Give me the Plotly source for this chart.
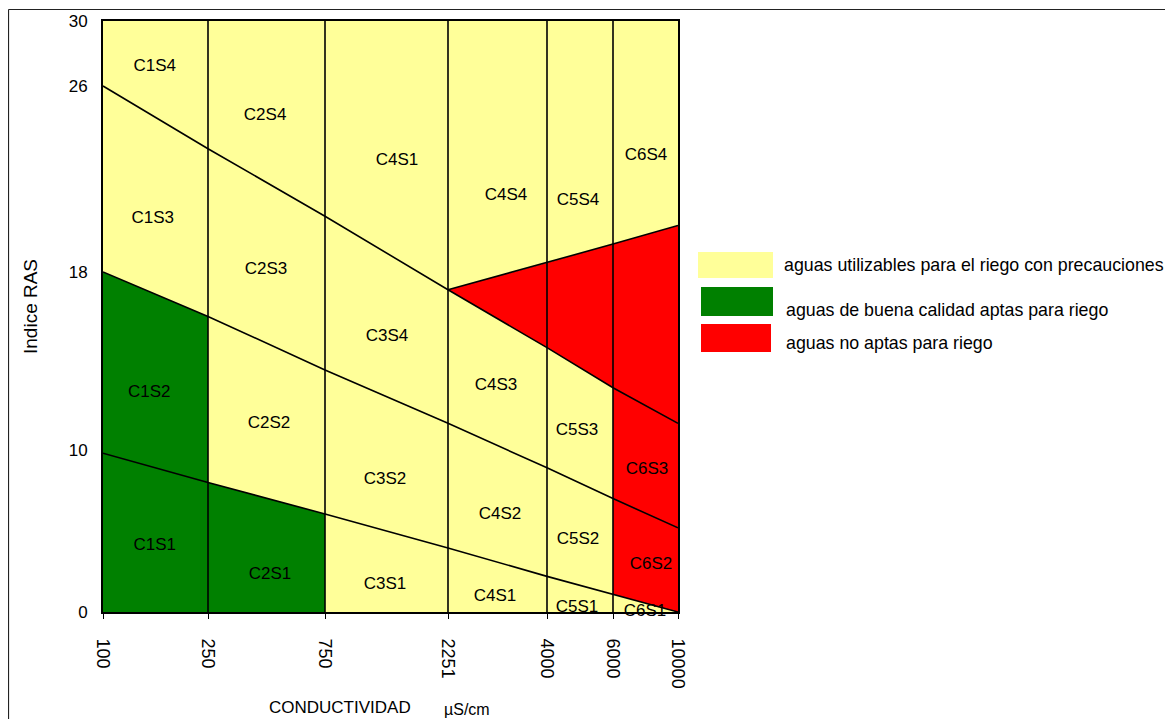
import numpy as np
import plotly.graph_objects as go

# ---------------- data ----------------
cond_ticks = [100, 250, 750, 2251, 4000, 6000, 10000]
cond_labels = ["100", "250", "750", "2251", "4000", "6000", "10000"]
sar_ticks = [0, 10, 18, 26, 30]
sar_labels = ["0", "10", "18", "26", "30"]

# SAR value of each class boundary at every conductivity tick
s1_s2 = [9.8, 8.0, 6.05, 3.95, 2.2, 1.1, 0.0]
s2_s3 = [18.0, 16.0, 13.6, 11.2, 8.9, 7.0, 5.2]
s3_s4 = [26.0, 23.3, 20.4, 17.2, 14.6, 12.8, 11.2]
# upper edge of the "not suitable" wedge
unfit_cond = [2251, 4000, 6000, 10000]
unfit_upper = [17.2, 18.4, 19.2, 20.0]

# class labels (conductivity, SAR where the label sits)
cell_names = ["C1S4", "C2S4", "C4S1", "C4S4", "C5S4", "C6S4",
              "C1S3", "C2S3", "C3S4", "C4S3", "C5S3", "C6S3",
              "C1S2", "C2S2", "C3S2", "C4S2", "C5S2", "C6S2",
              "C1S1", "C2S1", "C3S1", "C4S1", "C5S1", "C6S1"]
cell_cond = [174, 494, 1629, 3276, 4939, 8031,
             171, 498, 1507, 3099, 4909, 8092,
             166, 511, 1482, 3170, 4939, 8338,
             174, 515, 1482, 3081, 4909, 7969]
cell_sar = [27.2, 24.7, 22.8, 21.3, 21.05, 23.0,
            20.3, 18.1, 15.1, 12.9, 10.85, 8.77,
            12.56, 11.2, 8.15, 6.0, 4.44, 2.9,
            4.07, 2.28, 1.67, 0.93, 0.25, 0.0]

legend_labels = ["aguas utilizables para el riego con precauciones",
                 "aguas de buena calidad aptas para riego",
                 "aguas no aptas para riego"]

YELLOW = "#FFFF99"
GREEN = "#008000"
RED = "#FF0000"

# ---------------- hand-drawn (non-linear) axis scale ----------------
X_POS = [0, 105, 222, 345, 444, 510, 575]
Y_POS = [0, 162, 340, 526, 591]


def fx(c):
    return np.interp(np.asarray(c, dtype=float), cond_ticks, X_POS)


def fy(s):
    return np.interp(np.asarray(s, dtype=float), sar_ticks, Y_POS)


FONT = "Liberation Sans, Arial, sans-serif"
fig = go.Figure()

# yellow background region
c0, c1 = cond_ticks[0], cond_ticks[-1]
sb, st = sar_ticks[0], sar_ticks[-1]
fig.add_trace(go.Scatter(x=fx([c0, c1, c1, c0, c0]), y=fy([sb, sb, st, st, sb]),
                         fill="toself", fillcolor=YELLOW, mode="none",
                         name=legend_labels[0], showlegend=False, hoverinfo="skip"))

# green region (C1S1, C1S2, C2S1)
gx = [cond_ticks[0], cond_ticks[0], cond_ticks[1], cond_ticks[1], cond_ticks[2], cond_ticks[2]]
gy = [sar_ticks[0], s2_s3[0], s2_s3[1], s1_s2[1], s1_s2[2], sar_ticks[0]]
fig.add_trace(go.Scatter(x=fx(gx), y=fy(gy), fill="toself", fillcolor=GREEN, mode="none",
                         name=legend_labels[1], showlegend=False, hoverinfo="skip"))

# red region
rx = unfit_cond + [cond_ticks[6], cond_ticks[5], cond_ticks[5], cond_ticks[4], cond_ticks[3]]
ry = unfit_upper + [s1_s2[6], s1_s2[5], s3_s4[5], s3_s4[4], s3_s4[3]]
fig.add_trace(go.Scatter(x=fx(rx), y=fy(ry), fill="toself", fillcolor=RED, mode="none",
                         name=legend_labels[2], showlegend=False, hoverinfo="skip"))

# vertical division lines
vx, vy = [], []
for c in cond_ticks[1:-1]:
    vx += [float(fx(c)), float(fx(c)), None]
    vy += [float(fy(sb)), float(fy(st)), None]
fig.add_trace(go.Scatter(x=vx, y=vy, mode="lines", line=dict(color="black", width=1.6),
                         showlegend=False, hoverinfo="skip"))

# class boundary lines
for ys in (s1_s2, s2_s3, s3_s4):
    fig.add_trace(go.Scatter(x=fx(cond_ticks), y=fy(ys), mode="lines",
                             line=dict(color="black", width=1.6),
                             showlegend=False, hoverinfo="skip"))
fig.add_trace(go.Scatter(x=fx(unfit_cond), y=fy(unfit_upper), mode="lines",
                         line=dict(color="black", width=1.6),
                         showlegend=False, hoverinfo="skip"))

# class labels
fig.add_trace(go.Scatter(x=fx(cell_cond), y=fy(cell_sar), mode="text", text=cell_names,
                         textfont=dict(family=FONT, size=17, color="black"),
                         textposition="middle center", cliponaxis=False,
                         showlegend=False, hoverinfo="skip"))

# ---------------- layout ----------------
OFF = 8  # page body margin of the html page
W, H = 1173 - OFF, 719 - OFF
L, T = 103 - OFF, 21 - OFF
pw, ph = 575, 591
R, B = W - L - pw, H - T - ph


def px_x(p):
    return (p - OFF - L) / pw


def px_y(p):
    return (H - B - (p - OFF)) / ph


shapes = [
    # outer frame (top and left visible)
    dict(type="line", xref="paper", yref="paper", x0=px_x(8.5), x1=px_x(1200),
         y0=px_y(9.5), y1=px_y(9.5), line=dict(color="#222", width=1.2)),
    dict(type="line", xref="paper", yref="paper", x0=px_x(8.5), x1=px_x(8.5),
         y0=px_y(9.5), y1=px_y(740), line=dict(color="#222", width=1.2)),
]
legend_boxes = [(698, 773, 252, 278, YELLOW), (701, 773, 287, 316, GREEN), (701, 771, 324, 352, RED)]
for x0, x1, y0, y1, col in legend_boxes:
    shapes.append(dict(type="rect", xref="paper", yref="paper",
                       x0=px_x(x0), x1=px_x(x1), y0=px_y(y1), y1=px_y(y0),
                       fillcolor=col, line=dict(width=0)))

annotations = []
legend_text_pos = [(782, 265), (784, 310), (784, 343)]
for (tx, ty), lab in zip(legend_text_pos, legend_labels):
    annotations.append(dict(xref="paper", yref="paper", x=px_x(tx), y=px_y(ty), text=lab,
                            showarrow=False, xanchor="left", yanchor="middle",
                            font=dict(family=FONT, size=17.8, color="black")))
annotations.append(dict(xref="paper", yref="paper", x=px_x(30), y=px_y(307), text="Indice RAS",
                        textangle=-90, showarrow=False, xanchor="center", yanchor="middle",
                        font=dict(family=FONT, size=19, color="black")))
annotations.append(dict(xref="paper", yref="paper", x=px_x(340), y=px_y(707), text="CONDUCTIVIDAD",
                        showarrow=False, xanchor="center", yanchor="middle",
                        font=dict(family=FONT, size=17, color="black")))
annotations.append(dict(xref="paper", yref="paper", x=px_x(467), y=px_y(709), text="µS/cm",
                        showarrow=False, xanchor="center", yanchor="middle",
                        font=dict(family=FONT, size=16, color="black")))

fig.update_layout(
    width=W, height=H,
    margin=dict(l=L, r=R, t=T, b=B, pad=0, autoexpand=False),
    paper_bgcolor="white", plot_bgcolor="white",
    shapes=shapes, annotations=annotations,
    xaxis=dict(range=[0, pw], tickvals=fx(cond_ticks), ticktext=cond_labels, tickangle=90,
               showgrid=False, zeroline=False, showline=True, mirror=True, automargin=False,
               linecolor="black", linewidth=2, ticks="outside", ticklen=5, tickcolor="black",
               ticklabelstandoff=16,
               tickfont=dict(family=FONT, size=18, color="black")),
    yaxis=dict(range=[0, ph], tickvals=fy(sar_ticks), ticktext=sar_labels,
               showgrid=False, zeroline=False, showline=True, mirror=True, automargin=False,
               linecolor="black", linewidth=2, ticks="", ticklabelstandoff=10,
               tickfont=dict(family=FONT, size=17, color="black")),
)

fig.write_html("out.html")
